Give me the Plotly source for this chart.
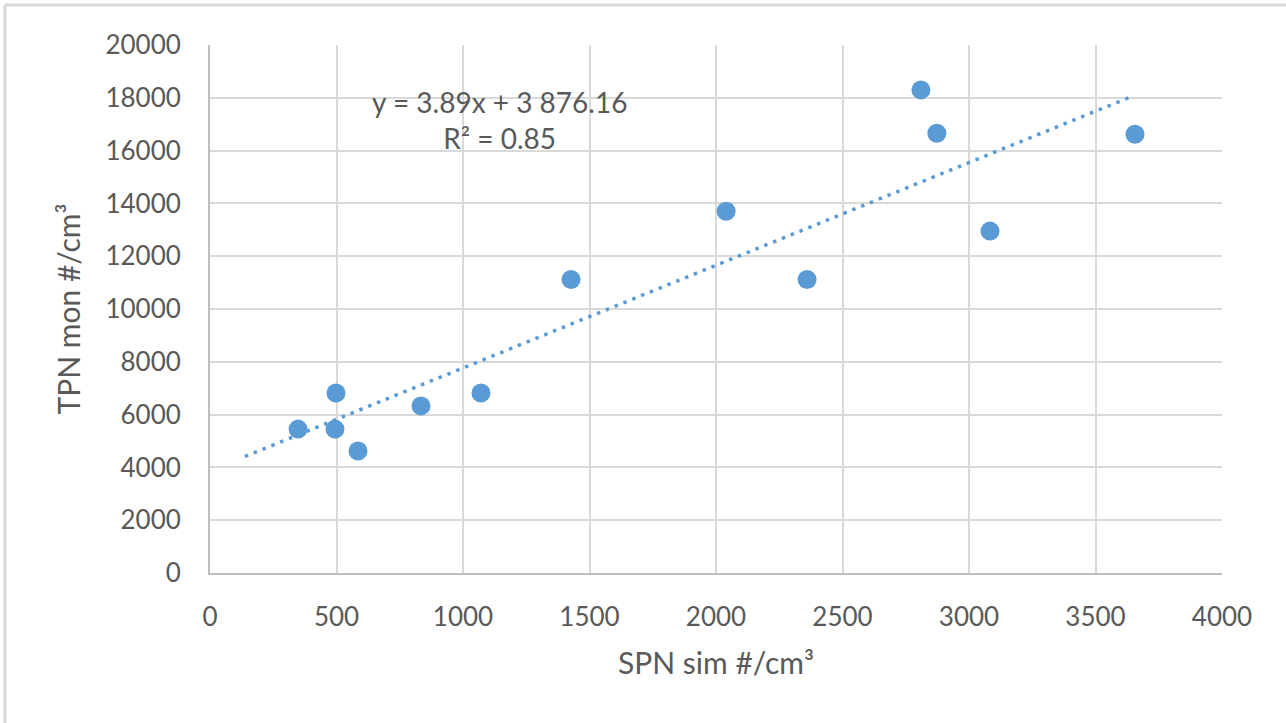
import plotly.graph_objects as go

spn_sim = [348, 498, 494, 585, 834, 1071, 1427, 2040, 2360, 2810, 2873, 3083, 3656]
tpn_mon = [5450, 6820, 5450, 4620, 6330, 6820, 11120, 13700, 11120, 18300, 16660, 12950, 16620]

slope = 3.89
intercept = 3876.16
trend_x = [138, 3636]
trend_y = [slope * v + intercept for v in trend_x]

x_ticks = [0, 500, 1000, 1500, 2000, 2500, 3000, 3500, 4000]
y_ticks = [0, 2000, 4000, 6000, 8000, 10000, 12000, 14000, 16000, 18000, 20000]
y_tick_labels = [str(v) for v in y_ticks]
x_tick_labels = [str(v) for v in x_ticks]

font_family = "Lato, 'Open Sans', sans-serif"
text_color = "#595959"

W, H = 1286, 723
L, R, T, B = 210, 64, 45, 150
PW, PH = W - L - R, H - T - B

fig = go.Figure()
fig.add_trace(go.Scatter(
    x=trend_x, y=trend_y, mode="lines",
    line=dict(color="#5B9BD5", width=3.5, dash="3.5px,6px"),
    hoverinfo="skip", showlegend=False,
))
fig.add_trace(go.Scatter(
    x=spn_sim, y=tpn_mon, mode="markers",
    marker=dict(color="#5B9BD5", size=19, line=dict(width=0)),
    showlegend=False,
))

fig.update_layout(
    width=W, height=H,
    margin=dict(l=L, r=R, t=T, b=B),
    paper_bgcolor="white", plot_bgcolor="white",
    font=dict(family=font_family, color=text_color, size=26),
    xaxis=dict(
        range=[0, 4000], tickvals=x_ticks, ticktext=x_tick_labels, ticks="",
        showgrid=True, gridcolor="#d9d9d9", gridwidth=2,
        showline=True, linecolor="#bfbfbf", linewidth=2,
        zeroline=False, ticklabelstandoff=20,
        tickfont=dict(size=26, color=text_color),
        title=dict(text="SPN sim #/cm³", font=dict(size=30, color=text_color), standoff=22),
        automargin=False,
    ),
    yaxis=dict(
        range=[0, 20000], tickvals=y_ticks, ticktext=y_tick_labels, ticks="",
        showgrid=True, gridcolor="#d9d9d9", gridwidth=2,
        showline=True, linecolor="#bfbfbf", linewidth=2,
        zeroline=False, ticklabelstandoff=22,
        tickfont=dict(size=26, color=text_color),
        title=dict(text="TPN mon #/cm³", font=dict(size=30, color=text_color), standoff=16),
        automargin=False,
    ),
    annotations=[dict(
        x=1146, y=17160, xref="x", yref="y",
        text="y = 3.89x + 3 876.16<br>R² = 0.85",
        showarrow=False, align="center",
        font=dict(size=28, color=text_color, family=font_family),
    )],
)

# outer chart border (left and top edges visible)
fig.add_shape(type="line", xref="paper", yref="paper",
              x0=(5 - L) / PW, x1=(W - L) / PW,
              y0=(H - B - 5) / PH, y1=(H - B - 5) / PH,
              line=dict(color="#d9d9d9", width=3), layer="below")
fig.add_shape(type="line", xref="paper", yref="paper",
              x0=(5 - L) / PW, x1=(5 - L) / PW,
              y0=(H - B - 5) / PH, y1=-B / PH,
              line=dict(color="#d9d9d9", width=3), layer="below")

fig.write_html("out.html", config={"displayModeBar": False},
               post_script="document.body.style.margin='0';")
